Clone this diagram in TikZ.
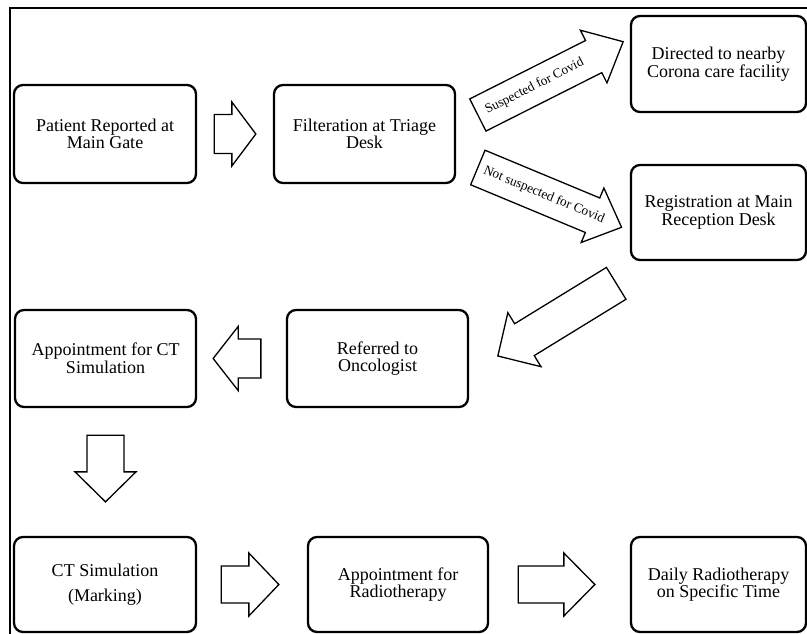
\documentclass[tikz,border=0pt]{standalone}
\usepackage{fontspec}
\setmainfont{Liberation Serif}
\usetikzlibrary{calc}
\newcommand{\blockarrow}[6]{%
  \coordinate (#1-a) at (#2);
  \coordinate (#1-b) at (#3);
  \coordinate (#1-n) at ($(#1-b)!#6!(#1-a)$);
  \draw[blockarr] ($(#1-a)!#4!90:(#1-b)$) -- ($(#1-n)!#4!90:(#1-b)$) -- ($(#1-n)!#5!90:(#1-b)$) -- (#1-b) -- ($(#1-n)!#5!-90:(#1-b)$) -- ($(#1-n)!#4!-90:(#1-b)$) -- ($(#1-a)!#4!-90:(#1-b)$) -- cycle;
}
\begin{document}
\begin{tikzpicture}[x=1pt,y=-1pt,
  box/.style={draw, line width=2.3pt, rounded corners=9pt, align=center, inner sep=0pt,
    font=\fontsize{18}{17.5}\selectfont},
  blockarr/.style={draw, line width=1.3pt, line join=miter, fill=white},
  arrlabel/.style={font=\fontsize{13.3}{13.3}\selectfont, inner sep=0pt}]
\useasboundingbox (0,0) rectangle (807,634);
\draw[line width=1.5pt] (807,8) -- (10,8) -- (10,634);

\node[box, minimum width=182pt, minimum height=98pt] (patient) at (105,134) {Patient Reported at\\Main Gate};
\node[box, minimum width=181pt, minimum height=98pt] (filter) at (364.5,134) {Filteration at Triage\\Desk};
\node[box, minimum width=175pt, minimum height=96pt] (directed) at (718.5,64) {Directed to nearby\\Corona care facility};
\node[box, minimum width=175pt, minimum height=95pt] (registration) at (718.5,212.5) {Registration at Main\\Reception Desk};
\node[box, minimum width=181pt, minimum height=97pt] (referred) at (377.5,358.5) {Referred to\\Oncologist};
\node[box, minimum width=181pt, minimum height=97pt] (apptct) at (105.5,358.5) {Appointment for CT\\Simulation};
\node[box, minimum width=182pt, minimum height=95pt] (ctsim) at (105,584.5) {CT Simulation\\[8pt](Marking)};
\node[box, minimum width=180pt, minimum height=95pt] (apptrt) at (398,584.5) {Appointment for\\Radiotherapy};
\node[box, minimum width=175pt, minimum height=95pt] (daily) at (718.5,584.5) {Daily Radiotherapy\\on Specific Time};

\blockarrow{ar1}{$(patient.east)+(17,0)$}{$(filter.west)+(-17,0)$}{19.5pt}{32pt}{24pt}
\blockarrow{ar2}{$(filter.east)+(21.7,-19)$}{$(directed.west)+(-6.7,-22.3)$}{18pt}{29.5pt}{33pt}
\blockarrow{ar3}{$(filter.east)+(21.7,33.5)$}{$(registration.west)+(-8.3,14.8)$}{18.7pt}{29.5pt}{31.4pt}
\blockarrow{ar4}{$(registration.south)+(-102.3,22.2)$}{$(referred.east)+(28.7,-2.5)$}{18.7pt}{31.7pt}{31.2pt}
\blockarrow{ar5}{$(referred.west)+(-25,0)$}{$(apptct.east)+(16,0)$}{19.5pt}{32pt}{25pt}
\blockarrow{ar6}{$(apptct.south)+(0,27)$}{$(apptct.south |- ctsim.north)+(0,-34)$}{18.5pt}{30.5pt}{30pt}
\blockarrow{ar7}{$(ctsim.east)+(24,0)$}{$(apptrt.west)+(-28,0)$}{18.5pt}{31.5pt}{30pt}
\blockarrow{ar8}{$(apptrt.east)+(29,0)$}{$(daily.west)+(-35,0)$}{18.5pt}{31.5pt}{31pt}

\path (ar2-a) -- (ar2-b) node[arrlabel, sloped, pos=0.39] (lab1) {Suspected for Covid};
\path (ar3-a) -- (ar3-b) node[arrlabel, sloped, pos=0.46] (lab2) {Not suspected for Covid};
\end{tikzpicture}
\end{document}
